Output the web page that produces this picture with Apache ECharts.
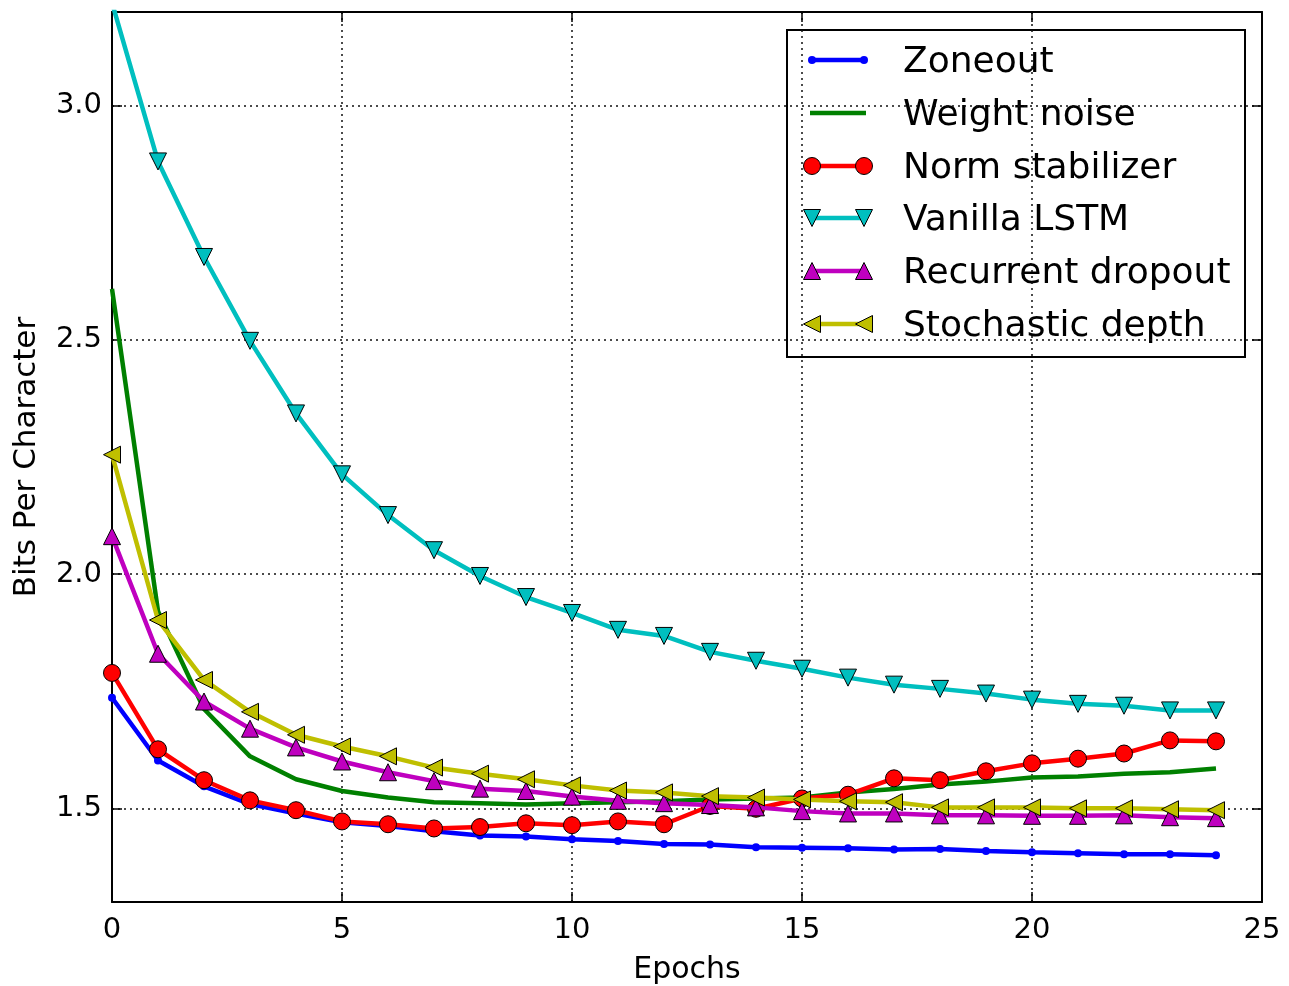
<!DOCTYPE html>
<html>
<head>
<meta charset="utf-8">
<script src="https://cdn.jsdelivr.net/npm/echarts@6/dist/echarts.min.js"></script>
<style>
  html, body { margin: 0; padding: 0; background: #fff; }
  #chart { width: 1289px; height: 986px; }
</style>
</head>
<body>
<div id="chart"></div>
<script>
// Validation bits-per-character per training epoch
const epochs = Array.from({ length: 25 }, (_, i) => i);

const zoneout = [1.736, 1.602, 1.547, 1.509, 1.489, 1.470, 1.462, 1.451, 1.442, 1.440,
  1.434, 1.430, 1.424, 1.423, 1.417, 1.416, 1.415, 1.412, 1.413, 1.409,
  1.406, 1.404, 1.402, 1.402, 1.400];
const weightNoise = [2.609, 1.921, 1.712, 1.611, 1.562, 1.537, 1.523, 1.513, 1.511, 1.508,
  1.511, 1.513, 1.515, 1.519, 1.521, 1.523, 1.534, 1.541, 1.551, 1.557,
  1.566, 1.568, 1.574, 1.577, 1.585];
const normStabilizer = [1.789, 1.626, 1.560, 1.517, 1.496, 1.472, 1.466, 1.457, 1.460, 1.468,
  1.464, 1.472, 1.466, 1.505, 1.499, 1.521, 1.529, 1.564, 1.560, 1.579,
  1.596, 1.606, 1.617, 1.645, 1.643];
const vanillaLSTM = [3.22, 2.881, 2.677, 2.498, 2.343, 2.213, 2.126, 2.051, 1.996, 1.951,
  1.917, 1.881, 1.868, 1.834, 1.815, 1.798, 1.779, 1.764, 1.755, 1.745,
  1.732, 1.723, 1.719, 1.709, 1.709];
const recurrentDropout = [2.081, 1.830, 1.728, 1.670, 1.630, 1.600, 1.577, 1.558, 1.542, 1.537,
  1.525, 1.516, 1.511, 1.507, 1.502, 1.494, 1.489, 1.489, 1.485, 1.485,
  1.484, 1.484, 1.485, 1.481, 1.479];
const stochasticDepth = [2.255, 1.902, 1.774, 1.706, 1.657, 1.632, 1.611, 1.587, 1.574, 1.562,
  1.549, 1.538, 1.534, 1.526, 1.523, 1.519, 1.515, 1.513, 1.502, 1.502,
  1.502, 1.500, 1.500, 1.498, 1.496];

const yTicks = [1.5, 2.0, 2.5, 3.0];
const seriesNames = ['Zoneout', 'Weight noise', 'Norm stabilizer', 'Vanilla LSTM', 'Recurrent dropout', 'Stochastic depth'];

const FONT = 'DejaVu Sans';

// marker styles: kind, size, color
const styles = [
  { data: zoneout, color: '#0000ff', marker: 'dot', size: 8 },
  { data: weightNoise, color: '#008000', marker: 'none', size: 0 },
  { data: normStabilizer, color: '#ff0000', marker: 'circle', size: 17 },
  { data: vanillaLSTM, color: '#00bfbf', marker: 'down', size: 17 },
  { data: recurrentDropout, color: '#bf00bf', marker: 'up', size: 17 },
  { data: stochasticDepth, color: '#bfbf00', marker: 'left', size: 17 }
];

function echartsSymbol(kind) {
  switch (kind) {
    case 'dot': return { symbol: 'circle', rotate: 0 };
    case 'circle': return { symbol: 'circle', rotate: 0 };
    case 'down': return { symbol: 'triangle', rotate: 180 };
    case 'up': return { symbol: 'triangle', rotate: 0 };
    case 'left': return { symbol: 'triangle', rotate: 90 };
    default: return { symbol: 'none', rotate: 0 };
  }
}

const series = styles.map((s, i) => {
  const sym = echartsSymbol(s.marker);
  return {
    name: seriesNames[i],
    type: 'line',
    xAxisIndex: 0,
    yAxisIndex: 0,
    data: epochs.map((e, k) => [e, s.data[k]]),
    symbol: sym.symbol,
    symbolRotate: sym.rotate,
    symbolSize: s.size,
    showSymbol: s.marker !== 'none',
    clip: true,
    lineStyle: { color: s.color, width: 4.5 },
    itemStyle: {
      color: s.color,
      borderColor: s.marker === 'dot' ? s.color : '#000',
      borderWidth: s.marker === 'dot' ? 0 : 1
    },
    emphasis: { disabled: true },
    z: 2 + i
  };
});

// Legend box with line samples and markers at both ends
function markerGraphic(kind, cx, cy, size, color) {
  const h = size / 2;
  const style = { fill: color, stroke: '#000', lineWidth: 1 };
  if (kind === 'dot') return { type: 'circle', shape: { cx, cy, r: 4 }, style: { fill: color } };
  if (kind === 'circle') return { type: 'circle', shape: { cx, cy, r: h }, style };
  let pts;
  if (kind === 'down') pts = [[cx - h, cy - h], [cx + h, cy - h], [cx, cy + h]];
  else if (kind === 'up') pts = [[cx, cy - h], [cx + h, cy + h], [cx - h, cy + h]];
  else pts = [[cx - h, cy], [cx + h, cy - h], [cx + h, cy + h]];
  return { type: 'polygon', shape: { points: pts }, style };
}

const legendItems = [
  { type: 'rect', shape: { x: 787, y: 30, width: 458, height: 327 },
    style: { fill: '#fff', stroke: '#000', lineWidth: 2 } }
];
const rowY = [60, 113, 166, 218, 271, 324];
styles.forEach((s, i) => {
  const y = rowY[i];
  legendItems.push({ type: 'line', shape: { x1: 810, y1: y, x2: 866, y2: y },
    style: { stroke: s.color, lineWidth: 4.5 } });
  if (s.marker !== 'none') {
    legendItems.push(markerGraphic(s.marker, 812, y, s.size, s.color));
    legendItems.push(markerGraphic(s.marker, 864, y, s.size, s.color));
  }
  legendItems.push({ type: 'text', x: 903, y: y + 3,
    style: { text: seriesNames[i], fontSize: 36, fontFamily: FONT, fill: '#000',
      verticalAlign: 'middle' } });
});

const gridDots = { color: '#111', width: 1.5, type: [2, 4] };
const frame = { show: true, onZero: false, lineStyle: { color: '#000', width: 2 } };
const innerTick = { show: true, inside: true, length: 10, lineStyle: { color: '#000', width: 1.5 } };

const option = {
  animation: false,
  backgroundColor: '#fff',
  grid: { left: 112, right: 27, top: 12, bottom: 84, containLabel: false, outerBoundsMode: 'none' },
  xAxis: [
    {
      type: 'value', min: 0, max: 25, interval: 5, position: 'bottom',
      name: 'Epochs', nameLocation: 'middle', nameGap: 53,
      nameTextStyle: { fontSize: 30, fontFamily: FONT, color: '#000' },
      axisLine: frame, axisTick: innerTick,
      axisLabel: { fontSize: 29, fontFamily: FONT, color: '#000', margin: 14 },
      splitLine: { show: true, lineStyle: gridDots }
    },
    {
      type: 'value', min: 0, max: 25, interval: 5, position: 'top',
      axisLine: frame, axisTick: innerTick,
      axisLabel: { show: false }, splitLine: { show: false }
    }
  ],
  yAxis: [
    {
      type: 'value', min: 1.3, max: 3.2, position: 'left',
      name: 'Bits Per Character', nameLocation: 'middle', nameGap: 70, nameRotate: 90,
      nameTextStyle: { fontSize: 31, fontFamily: FONT, color: '#000' },
      axisLine: frame,
      axisTick: Object.assign({}, innerTick, { customValues: yTicks }),
      axisLabel: { fontSize: 29, fontFamily: FONT, color: '#000', margin: 10,
        customValues: yTicks, formatter: v => v.toFixed(1) },
      splitLine: { show: true, lineStyle: gridDots }
    },
    {
      type: 'value', min: 1.3, max: 3.2, position: 'right',
      axisLine: frame,
      axisTick: Object.assign({}, innerTick, { customValues: yTicks }),
      axisLabel: { show: false, customValues: yTicks }, splitLine: { show: false }
    }
  ],
  series: series,
  graphic: { elements: [{ type: 'group', z: 100, children: legendItems }] }
};

const chart = echarts.init(document.getElementById('chart'), null, { renderer: 'canvas' });
chart.setOption(option);
</script>
</body>
</html>
